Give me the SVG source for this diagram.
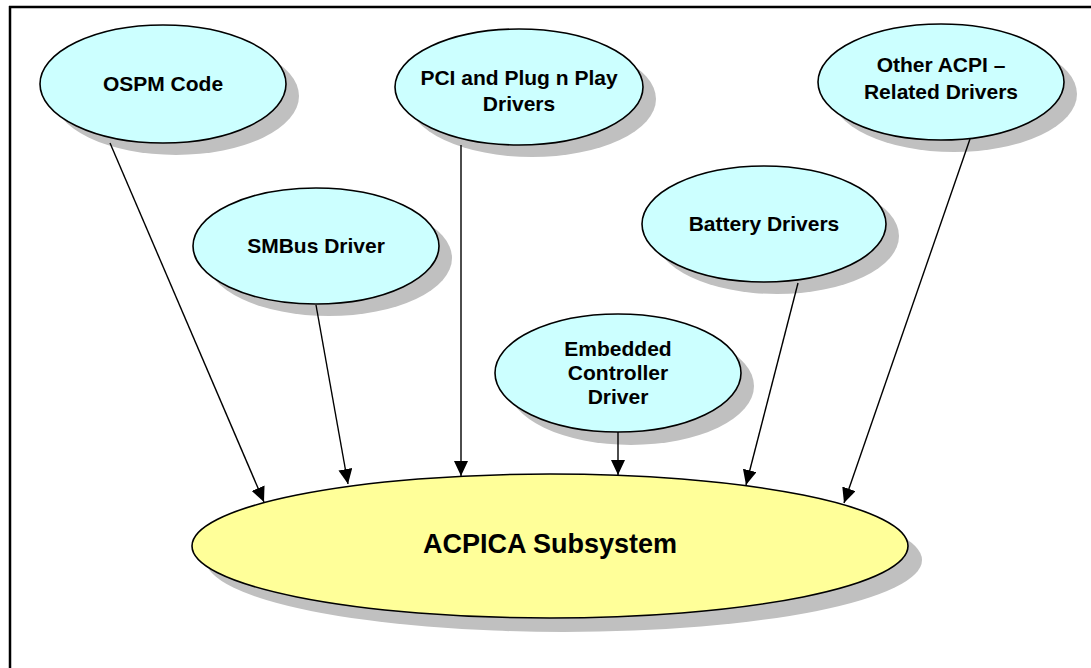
<svg xmlns="http://www.w3.org/2000/svg" width="1091" height="668" viewBox="0 0 1091 668">
<style>
.shadow{fill:#c0c0c0;stroke:none}
.node{fill:#ccffff;stroke:#000;stroke-width:1.6}
.main{fill:#ffff99;stroke:#000;stroke-width:1.6}
.lbl{font-family:"Liberation Sans",Arial,sans-serif;font-weight:bold;font-size:21px;fill:#000;text-anchor:middle}
.big{font-size:27px}
.conn{stroke:#000;stroke-width:1.4;fill:none;marker-end:url(#arr)}
</style>
<defs>
<marker id="arr" markerUnits="userSpaceOnUse" markerWidth="15" markerHeight="14" viewBox="0 0 15 14" refX="15" refY="7" orient="auto">
<path d="M0,0 L15,7 L0,14 Z" fill="#000"/>
</marker>
</defs>
<rect x="0" y="0" width="1091" height="668" fill="#fff"/>
<g id="frame" stroke="#000" stroke-width="2.5" fill="none">
<line x1="10" y1="6" x2="10" y2="668"/>
<line x1="9" y1="7" x2="1091" y2="7"/>
</g>
<g id="acpica">
<ellipse class="shadow" cx="564" cy="560" rx="358" ry="72"/>
<ellipse class="main" cx="550" cy="546" rx="358" ry="72"/>
<text class="lbl big" x="550" y="553">ACPICA Subsystem</text>
</g>
<g id="ospm">
<ellipse class="shadow" cx="176" cy="96" rx="123" ry="59"/>
<ellipse class="node" cx="163" cy="84" rx="123" ry="59"/>
<text class="lbl" x="163" y="91">OSPM Code</text>
</g>
<g id="pci">
<ellipse class="shadow" cx="532" cy="99" rx="124" ry="58"/>
<ellipse class="node" cx="519" cy="87" rx="124" ry="58"/>
<text class="lbl" x="519" y="85">PCI and Plug n Play</text>
<text class="lbl" x="519" y="111">Drivers</text>
</g>
<g id="other">
<ellipse class="shadow" cx="954" cy="94" rx="123" ry="58"/>
<ellipse class="node" cx="941" cy="82" rx="123" ry="58"/>
<text class="lbl" x="941" y="72">Other ACPI –</text>
<text class="lbl" x="941" y="99">Related Drivers</text>
</g>
<g id="smbus">
<ellipse class="shadow" cx="329" cy="258" rx="123" ry="58"/>
<ellipse class="node" cx="316" cy="246" rx="123" ry="58"/>
<text class="lbl" x="316" y="253">SMBus Driver</text>
</g>
<g id="battery">
<ellipse class="shadow" cx="777" cy="236" rx="122" ry="58"/>
<ellipse class="node" cx="764" cy="224" rx="122" ry="58"/>
<text class="lbl" x="764" y="231">Battery Drivers</text>
</g>
<g id="embedded">
<ellipse class="shadow" cx="631" cy="386" rx="123" ry="59"/>
<ellipse class="node" cx="618" cy="373" rx="123" ry="59"/>
<text class="lbl" x="618" y="356">Embedded</text>
<text class="lbl" x="618" y="380">Controller</text>
<text class="lbl" x="618" y="404">Driver</text>
</g>
<g id="connectors">
<line class="conn" x1="110" y1="143" x2="264" y2="502"/>
<line class="conn" x1="316" y1="305" x2="348" y2="484"/>
<line class="conn" x1="461" y1="145" x2="461" y2="476"/>
<line class="conn" x1="618" y1="432" x2="618" y2="475"/>
<line class="conn" x1="798" y1="283" x2="746" y2="485"/>
<line class="conn" x1="970" y1="139" x2="844" y2="503"/>
</g>
</svg>
